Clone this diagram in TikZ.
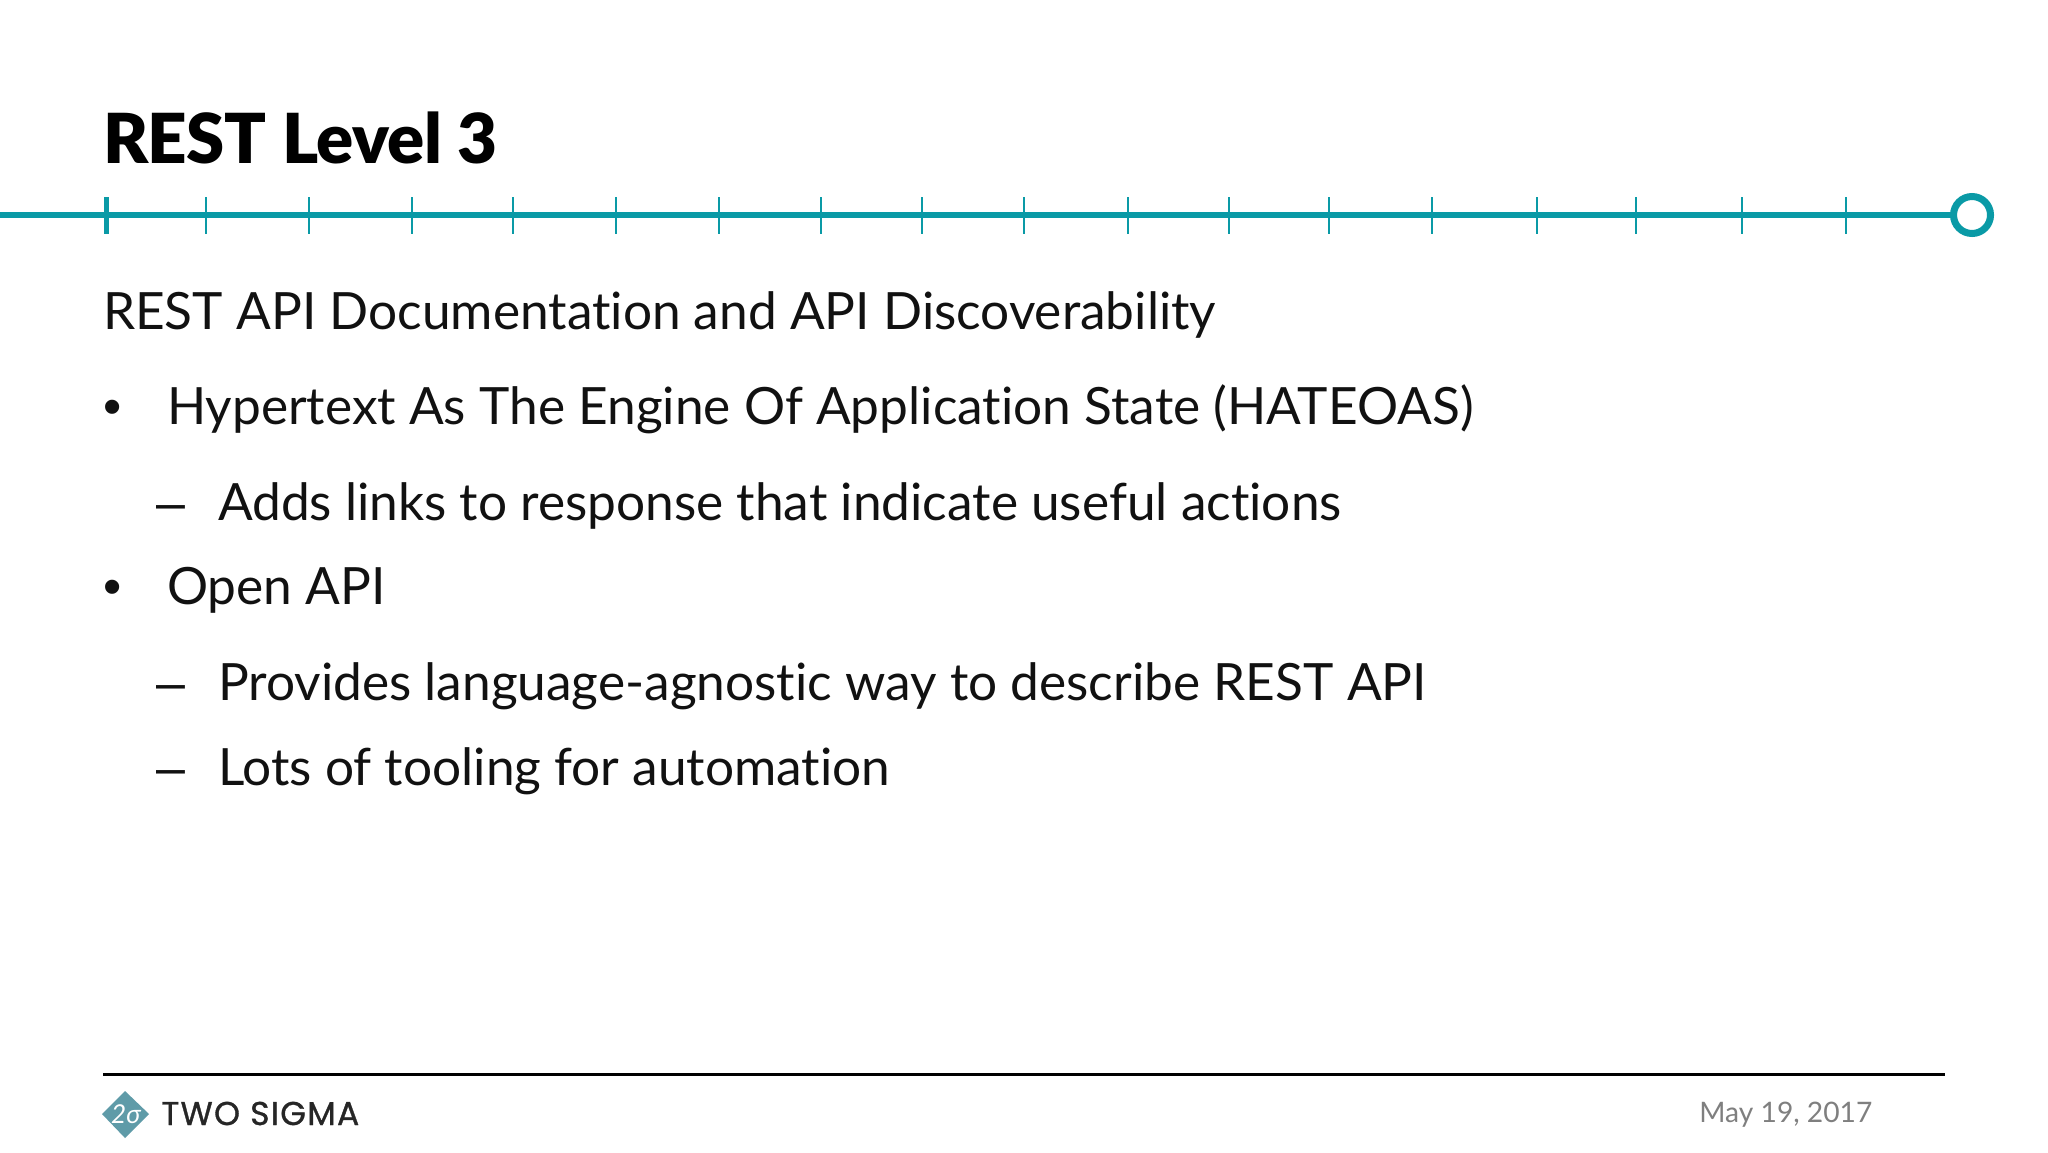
\documentclass[tikz,border=0pt]{standalone}
\usepackage{fontspec}
\setmainfont{Lato}[Ligatures=NoCommon]
\newfontfamily\logofont{Poppins}[LetterSpace=4,FakeBold=1]
\newfontfamily\bulletfont{Liberation Sans}
\newfontfamily\titlefont{Lato}[UprightFont=* Black,Ligatures=NoCommon,LetterSpace=-0.75]
\definecolor{teal1}{HTML}{0A9AA6}
\definecolor{logoteal}{HTML}{5F9BA8}
\definecolor{textblk}{HTML}{111111}
\definecolor{dategray}{HTML}{7F7F7F}
\tikzset{
 x=0.5pt,y=-0.5pt,
 body/.style={anchor=base west,inner sep=0pt,outer sep=0pt,text=textblk,font=\fontsize{25.7}{30}\selectfont},
 marker/.style={anchor=base west,inner sep=0pt,outer sep=0pt,text=textblk,font=\bulletfont\fontsize{26}{30}\selectfont},
 titletext/.style={anchor=base west,inner sep=0pt,outer sep=0pt,text=black,font=\titlefont\fontsize{34.5}{40}\selectfont},
 tick/.style={draw=teal1,line width=1pt},
 axis/.style={draw=teal1,line width=3pt},
}
\begin{document}
\begin{tikzpicture}
\useasboundingbox (0,0) rectangle (2048,1152);
\fill[white] (0,0) rectangle (2048,1152);
\node[titletext] (title) at (103,163) {REST Level 3};
% timeline
\coordinate (axisstart) at (0,215);
\node[circle,draw=teal1,line width=3.5pt,fill=white,minimum size=18.5pt,inner sep=0pt,outer sep=0pt] (endcircle) at (1972,215) {};
\draw[axis] (axisstart) -- (endcircle.west);
\draw[teal1,line width=2.5pt] (106,197) -- (106,234);
\foreach \tx in {206,309,412,513,616,719,821,922,1024,1128,1229,1329,1432,1537,1636,1742,1846}{
  \draw[tick] (\tx,197) -- (\tx,234);
}
% body
\node[body] (heading) at (103,329) {REST API Documentation and API Discoverability};
\node[marker] (b1) at (103,424.5) {•};
\node[body] (t1) at (167,424.5) {Hypertext As The Engine Of Application State (HATEOAS)};
\node[marker] (d1) at (156,520) {–};
\node[body] (t2) at (218,520) {Adds links to response that indicate useful actions};
\node[marker] (b2) at (103,604) {•};
\node[body] (t3) at (167,604) {Open API};
\node[marker] (d2) at (156,700) {–};
\node[body] (t4) at (218,700) {Provides language-agnostic way to describe REST API};
\node[marker] (d3) at (156,785) {–};
\node[body] (t5) at (218,785) {Lots of tooling for automation};
% footer
\draw[black,line width=1.5pt] (103,1074) -- (1945,1074);
\fill[logoteal] (125,1091) -- (149,1114) -- (125,1138) -- (102,1114) -- cycle;
\node[text=white,inner sep=0pt,font=\fontsize{13}{13}\selectfont\itshape] (logomark) at (126,1114) {2σ};
\node[anchor=base west,inner sep=0pt,text=black!85,font=\logofont\fontsize{16.5}{18}\selectfont] (logotext) at (161,1125) {TWO SIGMA};
\node[anchor=base west,inner sep=0pt,text=dategray,font=\fontsize{14.1}{16}\selectfont] (date) at (1699,1122) {May 19, 2017};
\end{tikzpicture}
\end{document}
